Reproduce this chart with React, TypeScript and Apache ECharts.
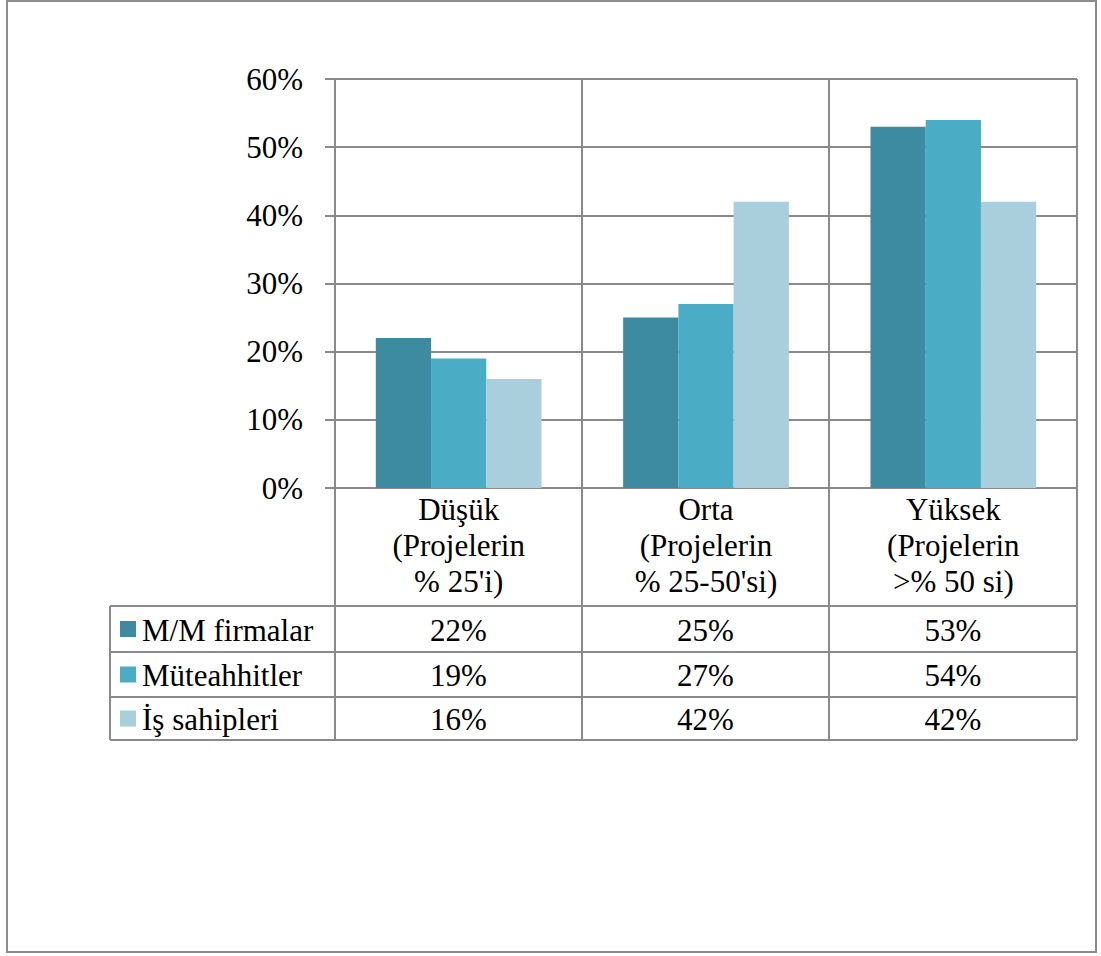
import React, { useEffect, useRef } from "react";
import * as echarts from "echarts";

const categories = ["Düşük\n(Projelerin\n% 25'i)", "Orta\n(Projelerin\n% 25-50'si)", "Yüksek\n(Projelerin\n>% 50 si)"];
const seriesNames = ["M/M firmalar", "Müteahhitler", "İş sahipleri"];
const mmFirmalar = [22, 25, 53];
const muteahhitler = [19, 27, 54];
const isSahipleri = [16, 42, 42];
const seriesColors = ["#3C8BA1", "#4BACC6", "#A9CEDC"];
const yTicks = [0, 10, 20, 30, 40, 50, 60];

const FONT = "Liberation Serif";
const FS = 31;
const LINE = "#8a8a8a";

export default function App() {
  const ref = useRef<HTMLDivElement>(null);
  useEffect(() => {
    if (!ref.current) return;
    const chart = echarts.init(ref.current, undefined, { renderer: "svg" });
    const gridLeft = 335;
    const gridTop = 79;
    const gridRight = 1077;
    const gridBottom = 488;
    const tableLeft = 110;
    const rowLines = [606, 652, 697, 740];
    const colLines = [335, 582, 829, 1077];
    const allData = [mmFirmalar, muteahhitler, isSahipleri];
    const graphics: any[] = [];
    graphics.push({
      type: "rect",
      shape: { x: 7, y: 1, width: 1089, height: 951 },
      style: { fill: "none", stroke: "#8c8c8c", lineWidth: 2 },
      silent: true,
    });
    rowLines.forEach((y) => {
      graphics.push({
        type: "line",
        shape: { x1: tableLeft, y1: y, x2: gridRight, y2: y },
        style: { stroke: LINE, lineWidth: 2 },
        silent: true,
      });
    });
    graphics.push({
      type: "line",
      shape: { x1: tableLeft, y1: rowLines[0], x2: tableLeft, y2: rowLines[rowLines.length - 1] },
      style: { stroke: LINE, lineWidth: 2 },
      silent: true,
    });
    colLines.forEach((x) => {
      graphics.push({
        type: "line",
        shape: { x1: x, y1: gridTop, x2: x, y2: rowLines[rowLines.length - 1] },
        style: { stroke: LINE, lineWidth: 2 },
        silent: true,
      });
    });
    for (let r = 0; r < seriesNames.length; r++) {
      const cy = (rowLines[r] + rowLines[r + 1]) / 2;
      graphics.push({
        type: "rect",
        shape: { x: 120, y: cy - 8, width: 16, height: 16 },
        style: { fill: seriesColors[r] },
        silent: true,
      });
      graphics.push({
        type: "text",
        x: 142,
        y: cy + 1,
        style: {
          text: seriesNames[r],
          fontFamily: FONT,
          fontSize: FS,
          fill: "#000",
          verticalAlign: "middle",
          align: "left",
        },
        silent: true,
      });
      for (let c = 0; c < categories.length; c++) {
        const cx = (colLines[c] + colLines[c + 1]) / 2;
        graphics.push({
          type: "text",
          x: cx,
          y: cy + 1,
          style: {
            text: allData[r][c] + "%",
            fontFamily: FONT,
            fontSize: FS,
            fill: "#000",
            verticalAlign: "middle",
            align: "center",
          },
          silent: true,
        });
      }
    }

    chart.setOption({
      animation: false,
      backgroundColor: "#fff",
      textStyle: { fontFamily: FONT },
      grid: {
        left: gridLeft,
        top: gridTop,
        width: gridRight - gridLeft,
        height: gridBottom - gridTop,
        containLabel: false,
      },
      xAxis: {
        type: "category",
        data: categories,
        axisLine: { show: true, lineStyle: { color: LINE, width: 2 } },
        axisTick: { show: false },
        splitLine: { show: false },
        axisLabel: {
          color: "#000",
          fontFamily: FONT,
          fontSize: FS,
          lineHeight: 36,
          margin: 3,
          verticalAlign: "top",
        },
      },
      yAxis: {
        type: "value",
        min: 0,
        max: yTicks[yTicks.length - 1],
        interval: 10,
        axisLine: { show: true, lineStyle: { color: LINE, width: 2 } },
        axisTick: { show: true, length: 10, lineStyle: { color: LINE, width: 2 } },
        splitLine: { show: true, lineStyle: { color: LINE, width: 2 } },
        axisLabel: {
          color: "#000",
          fontFamily: FONT,
          fontSize: FS,
          margin: 32,
          formatter: (v: number) => v + "%",
        },
      },
      series: seriesNames.map((name, i) => ({
        name,
        type: "bar",
        data: allData[i],
        barGap: "0%",
        barCategoryGap: "33%",
        itemStyle: { color: seriesColors[i] },
      })),
      graphic: graphics,
    });
    return () => chart.dispose();
  }, []);
  return (
    <div
      ref={ref}
      style={{ position: "absolute", left: 0, top: 0, width: 1101, height: 956 }}
    />
  );
}
